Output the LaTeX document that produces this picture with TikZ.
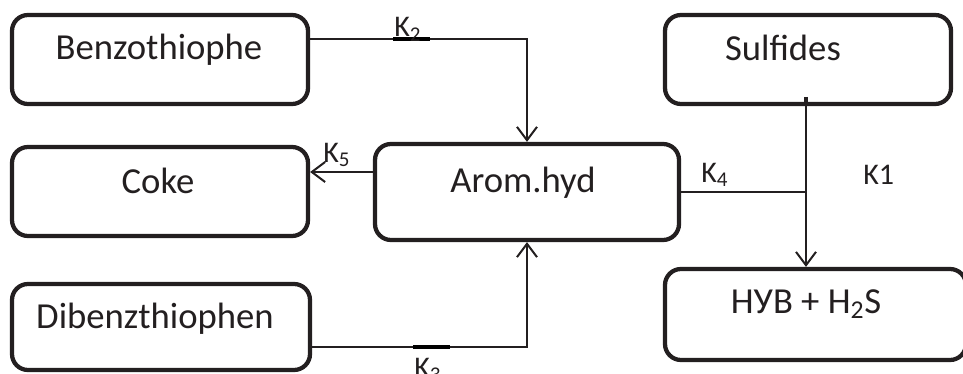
\documentclass[tikz,border=0pt]{standalone}
\usepackage{fontspec}
\setmainfont{Carlito}
\usetikzlibrary{arrows.meta}
\definecolor{ink}{HTML}{231F20}
\begin{document}
\begin{tikzpicture}[x=0.75pt,y=-0.75pt,
  box/.style 2 args={draw=ink, line width=3.2pt, rounded corners=12pt, inner sep=0pt,
    minimum width=#1*0.75pt, minimum height=#2*0.75pt},
  boxtext/.style={anchor=base, inner sep=0pt, text=ink, font=\fontsize{27.5}{30}\selectfont},
  klabel/.style={anchor=base west, inner sep=0pt, text=ink, font=\fontsize{22.5}{26}\selectfont},
  conn/.style={draw=ink, line width=1.5pt},
  arr/.style={conn, -{Straight Barb[length=10pt, width=15pt, line width=1.5pt]}},
  thickmark/.style={draw=black, line width=2.6pt}]
\useasboundingbox (0,0) rectangle (963,374);

% boxes
\node[box={296}{89}] (benzo) at (160,59.5) {};
\node[box={296}{89}] (coke) at (160,191.5) {};
\node[box={304}{96}] (arom) at (527,192) {};
\node[box={286}{89}] (sulf) at (808,59.5) {};
\node[box={301}{91}] (hyb) at (815.5,314.5) {};
\node[box={298}{86}] (dibenz) at (161,327) {};

% box texts
\node[boxtext] (tbenzo) at (159,60) {Benzothiophe};
\node[boxtext] (tcoke) at (158,193) {Coke};
\node[boxtext] (tarom) at (523,192) {Arom.hyd};
\node[boxtext] (tsulf) at (783,61) {Sulfides};
\node[boxtext] (thyb) at (806,313) {НУВ + H\textsubscript{2}S};
\node[boxtext] (tdibenz) at (155,328) {Dibenzthiophen};

% junction coordinates
\coordinate (j2) at (527,39);
\coordinate (j5) at (340,172);
\coordinate (j1) at (806,192);
\coordinate (j3) at (527,347);

% connectors
\draw[arr] (benzo.east |- j2) -- (j2) -- (arom.north -| j2);
\draw[arr] (arom.west |- j5) -- (coke.east |- j5);
\draw[conn] (arom.east) -- (arom.east -| j1);
\draw[arr] (sulf.south -| j1) -- (hyb.north -| j1);
\draw[arr] (dibenz.east |- j3) -- (j3) -- (arom.south -| j3);

% thick marks
\coordinate (m2a) at (393,39); \coordinate (m2b) at (430,39);
\draw[thickmark] (m2a) -- (m2b);
\coordinate (m3a) at (413,347); \coordinate (m3b) at (450,347);
\draw[thickmark] (m3a) -- (m3b);
\coordinate (m1a) at (806,97);
\draw[line width=2.4pt, draw=ink] (m1a) -- (sulf.south -| j1);

% rate labels
\node[klabel] (k2) at (394,37) {K\textsubscript{2}};
\node[klabel] (k5) at (323,162) {K\textsubscript{5}};
\node[klabel] (k4) at (701,182) {K\textsubscript{4}};
\node[klabel] (k1) at (863,185) {K1};
\node[klabel] (k3) at (414,377) {K\textsubscript{3}};
\end{tikzpicture}
\end{document}
